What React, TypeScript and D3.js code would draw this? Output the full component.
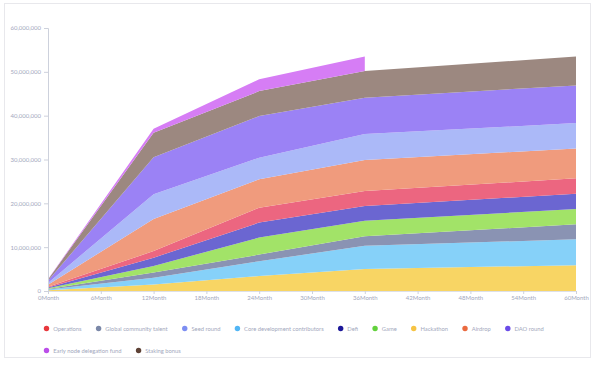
import { useEffect, useRef } from "react";
import * as d3 from "d3";

// months where the unlock curve changes slope
const months = [0, 12, 24, 36, 60];
const xTicks = [0, 6, 12, 18, 24, 30, 36, 42, 48, 54, 60];
const yTicks = [0, 10000000, 20000000, 30000000, 40000000, 50000000, 60000000];

// series, bottom of the stack first (values in millions)
const hackathon = [0.15, 1.5, 3.4, 5.0, 5.9];
const coreDev = [0.2, 1.5, 3.4, 5.3, 5.9];
const globalTalent = [0.1, 1.2, 1.5, 2.2, 3.4];
const game = [0.2, 1.5, 3.9, 3.5, 3.5];
const defi = [0.15, 1.9, 3.4, 3.4, 3.5];
const operations = [0.15, 1.5, 3.4, 3.4, 3.5];
const airdrop = [0.5, 7.3, 6.5, 7.1, 6.8];
const seedRound = [0.4, 5.7, 4.9, 5.9, 5.8];
const daoRound = [0.5, 8.4, 9.5, 8.3, 8.6];
const stakingBonus = [0.3, 5.6, 5.7, 6.1, 6.6];
const earlyNode = [0.05, 0.9, 2.7, 3.3, null];

const seriesList = [
  { name: "Hackathon", values: hackathon, fill: "#f8d564", dot: "#f6c343" },
  { name: "Core development contributors", values: coreDev, fill: "#86d1f9", dot: "#52b6f5" },
  { name: "Global community talent", values: globalTalent, fill: "#8a93b3", dot: "#7b88a8" },
  { name: "Game", values: game, fill: "#a2e368", dot: "#62d13c" },
  { name: "Defi", values: defi, fill: "#6b66d1", dot: "#1d1899" },
  { name: "Operations", values: operations, fill: "#ec6680", dot: "#e8383d" },
  { name: "Airdrop", values: airdrop, fill: "#f09b7d", dot: "#ea6a3f" },
  { name: "Seed round", values: seedRound, fill: "#abb9f8", dot: "#7d8ef2" },
  { name: "DAO round", values: daoRound, fill: "#9b82f5", dot: "#6a4ce8" },
  { name: "Staking bonus", values: stakingBonus, fill: "#9c8880", dot: "#5e4236" },
  { name: "Early node delegation fund", values: earlyNode, fill: "#d67df5", dot: "#bb4ee9" },
];

const legendOrder = [
  "Operations",
  "Global community talent",
  "Seed round",
  "Core development contributors",
  "Defi",
  "Game",
  "Hackathon",
  "Airdrop",
  "DAO round",
  "Early node delegation fund",
  "Staking bonus",
];

const App = () => {
  const chartContainer = useRef(null);

  useEffect(() => {
    const W = 600;
    const H = 369;
    const margin = { top: 28, right: 24, bottom: 78, left: 48 };
    const width = W - margin.left - margin.right;
    const height = H - margin.top - margin.bottom;
    const font = "Lato, 'Noto Sans', sans-serif";
    const textColor = "#a3a8bd";

    d3.select(chartContainer.current).selectAll("*").remove();

    const root = d3
      .select(chartContainer.current)
      .append("svg")
      .attr("width", W)
      .attr("height", H)
      .style("position", "absolute")
      .style("left", 0)
      .style("top", 0);

    root
      .append("rect")
      .attr("x", 4.5)
      .attr("y", 3.5)
      .attr("width", 586)
      .attr("height", 354)
      .attr("fill", "#fff")
      .attr("stroke", "#e8e8ec");

    const svg = root.append("g").attr("transform", `translate(${margin.left},${margin.top})`);

    const x = d3.scaleLinear().domain([0, 60]).range([0, width]);
    const y = d3.scaleLinear().domain([0, 60000000]).range([height, 0]);

    const rows = months.map((m, i) => {
      const r: any = { month: m };
      seriesList.forEach((s) => {
        const v = s.values[i];
        r[s.name] = v == null ? null : v * 1000000;
      });
      return r;
    });

    const stack = d3
      .stack()
      .keys(seriesList.map((s) => s.name))
      .value((d: any, key) => (d[key] == null ? 0 : d[key]));
    const layers = stack(rows as any);

    const area = d3
      .area<any>()
      .x((d) => x(d.data.month))
      .y0((d) => y(d[0]))
      .y1((d) => y(d[1]));

    layers.forEach((layer, i) => {
      const key = seriesList[i].name;
      svg
        .append("path")
        .datum(layer)
        .attr("fill", seriesList[i].fill)
        .attr("d", area.defined((d: any) => d.data[key] != null)(layer as any));
    });

    // y axis
    const yAxis = svg
      .append("g")
      .call(
        d3
          .axisLeft(y)
          .tickValues(yTicks)
          .tickSize(4)
          .tickPadding(3)
          .tickFormat((d) => d3.format(",")(d as number))
      );
    yAxis.selectAll("line").attr("stroke", "#cdd1dc");
    yAxis.select(".domain").attr("stroke", "#cdd1dc");
    yAxis.selectAll("text").attr("fill", textColor).style("font-family", font).style("font-size", "6px");

    // x axis
    const xAxis = svg
      .append("g")
      .attr("transform", `translate(0,${height})`)
      .call(
        d3
          .axisBottom(x)
          .tickValues(xTicks)
          .tickSize(3)
          .tickPadding(2)
          .tickFormat((d) => `${d}Month`)
      );
    xAxis.selectAll("line").attr("stroke", "#cdd1dc");
    xAxis.select(".domain").attr("stroke", "#dde0e8");
    xAxis.selectAll("text").attr("fill", textColor).style("font-family", font).style("font-size", "6px");

    // legend, flowing into rows
    const ctx = document.createElement("canvas").getContext("2d")!;
    ctx.font = `5.8px ${font}`;
    const legend = root.append("g");
    let lx = 46.5;
    let ly = 328.5;
    legendOrder.forEach((name) => {
      const s = seriesList.find((d) => d.name === name)!;
      const tw = ctx.measureText(name).width;
      const itemW = 6.7 + tw;
      if (lx + itemW > 570) {
        lx = 46.5;
        ly += 22;
      }
      legend.append("circle").attr("cx", lx).attr("cy", ly).attr("r", 2.7).attr("fill", s.dot);
      legend
        .append("text")
        .attr("x", lx + 6.7)
        .attr("y", ly)
        .attr("dy", "0.35em")
        .attr("fill", textColor)
        .style("font-family", font)
        .style("font-size", "5.8px")
        .text(name);
      lx += itemW + 17;
    });
  }, []);

  return <div ref={chartContainer}></div>;
};

export default App;
